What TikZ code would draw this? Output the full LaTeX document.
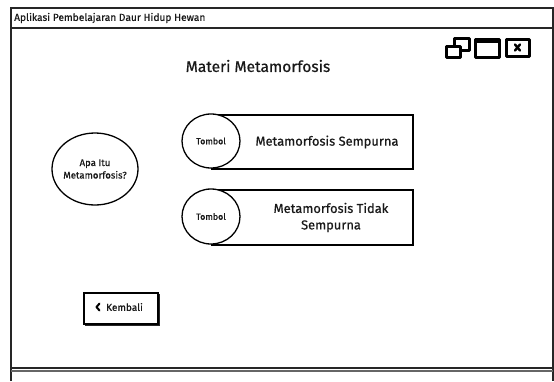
\documentclass[tikz,border=0pt]{standalone}
\usepackage{fontspec}
\setmainfont{Fira Sans}[FakeBold=0.6]
\newfontfamily\symfont{DejaVu Sans}
\usetikzlibrary{shapes.geometric}
\begin{document}
\begin{tikzpicture}[x=1pt,y=-1pt,
  frame/.style={draw=black!85, line width=1.3pt},
  btnrect/.style={draw, line width=1.5pt, fill=white, inner sep=0pt},
  btnoval/.style={ellipse, draw, line width=1.3pt, fill=white, inner sep=0pt},
  icon/.style={draw, line width=3pt, fill=white, line join=round},
  txt/.style={inner sep=0pt, align=center, text=black!90}]
  \useasboundingbox (0,0) rectangle (554,381);

  % application window with title bar and status strip
  \draw[frame] (11,381) -- (11,8) -- (553,8) -- (553,381);
  \draw[frame] (11,28) -- (553,28);
  \draw[frame, line width=1.8pt] (11,368) -- (553,368);
  \draw[frame, draw=black!60] (11,371) -- (553,371);
  \node[txt, anchor=west, font=\fontsize{10.2}{11}\selectfont] (apptitle) at (14,18) {Aplikasi Pembelajaran Daur Hidup Hewan};

  % window controls: restore, maximize, close
  \draw[icon] (454,38.5) rectangle (469,50);
  \draw[icon] (446.5,46) rectangle (460,57);
  \draw[icon] (475,39) rectangle (499,57);
  \draw[line width=3pt] (475,41) -- (499,41);
  \draw[icon] (506,39) rectangle (529,56);
  \draw[line width=2.4pt, line cap=round] (515,44.5) -- (520,50.5) (520,44.5) -- (515,50.5);

  % page heading
  \node[txt, font=\fontsize{15.5}{17}\selectfont] (heading) at (258,66) {Materi Metamorfosis};

  % intro bubble
  \node[btnoval, minimum width=86pt, minimum height=72pt] (intro) at (95,169) {};
  \node[txt, font=\fontsize{9.6}{12.5}\selectfont] (introtxt) at (intro.center) {Apa Itu\\Metamorfosis?};

  % first topic button
  \node[btnrect, anchor=north west, minimum width=201pt, minimum height=54pt] (rect1) at (211,114) {};
  \node[btnoval, minimum width=58pt, minimum height=54pt] (knob1) at (211,141) {};
  \node[txt, font=\fontsize{8.8}{9}\selectfont] (knobtxt1) at (knob1.center) {Tombol};
  \node[txt, font=\fontsize{12.9}{15}\selectfont] (label1) at (327,142) {Metamorfosis Sempurna};

  % second topic button
  \node[btnrect, anchor=north west, minimum width=201pt, minimum height=55pt] (rect2) at (211,189) {};
  \node[btnoval, minimum width=58pt, minimum height=55pt] (knob2) at (211,216.5) {};
  \node[txt, font=\fontsize{8.8}{9}\selectfont] (knobtxt2) at (knob2.center) {Tombol};
  \node[txt, font=\fontsize{12.9}{16.5}\selectfont] (label2) at (331,217.5) {Metamorfosis Tidak\\Sempurna};

  % back button with drop shadow and chevron
  \fill[black!85] (85,294) rectangle (159.5,325.5);
  \node[btnrect, anchor=north west, minimum width=74pt, minimum height=31pt] (back) at (83,292) {};
  \node[txt, anchor=west, font=\fontsize{10}{11}\selectfont] (backtxt) at (106,307) {Kembali};
  \draw[line width=2pt, line cap=round, line join=round] (99.5,303.5) -- (96.5,307) -- (99.5,310.5);
\end{tikzpicture}
\end{document}
